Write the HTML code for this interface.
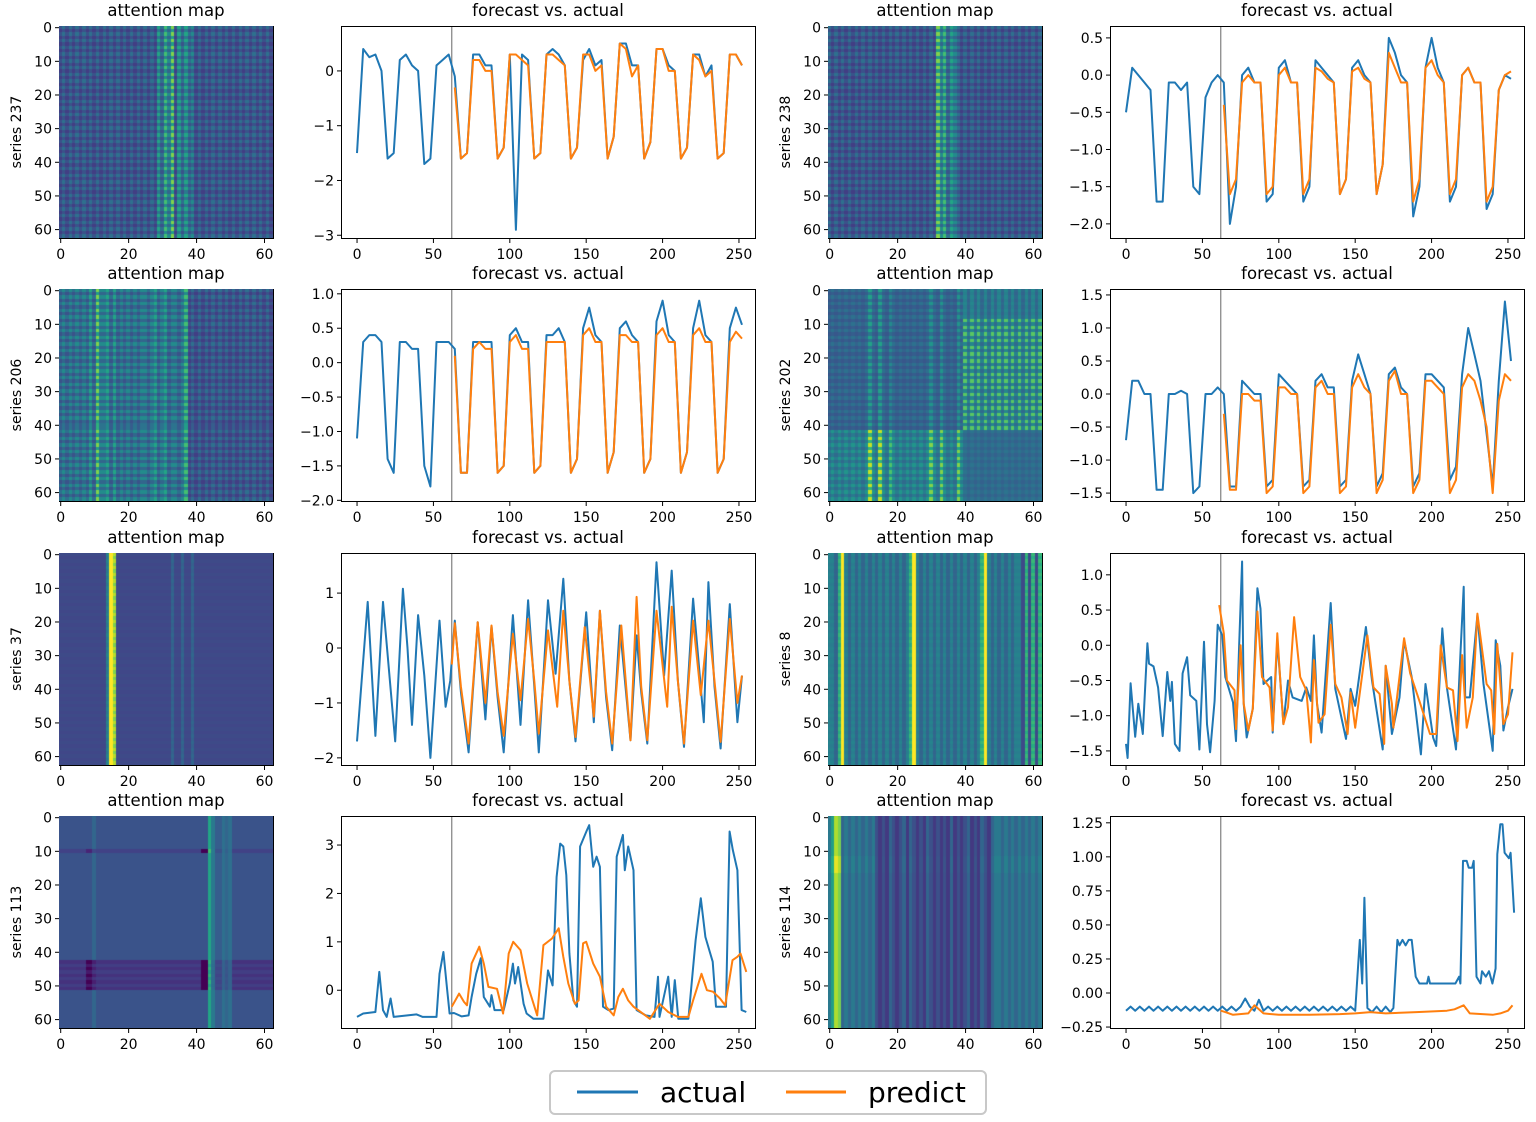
<!DOCTYPE html>
<html><head><meta charset="utf-8"><title>attention maps and forecasts</title>
<style>
body{margin:0;background:#fff}
#fig{position:relative;width:1536px;height:1122px;overflow:hidden;font-family:"DejaVu Sans","Liberation Sans",sans-serif}
canvas{position:absolute}
svg text{font-family:"DejaVu Sans","Liberation Sans",sans-serif;fill:#000}
</style></head>
<body>
<div id="fig">
<svg id="svg" width="1536" height="1122"></svg>
</div>
<script>
// ---------- line series data ----------
const s237Actual=[-1.5,0.4,0.25,0.3,0.0,-1.6,-1.5,0.2,0.3,0.1,0.0,-1.7,-1.6,0.1,0.2,0.3,-0.1,-1.6,-1.5,0.3,0.3,0.1,0.1,-1.6,-1.4,0.3,-2.9,0.3,0.2,-1.6,-1.5,0.3,0.4,0.3,0.1,-1.6,-1.4,0.2,0.4,0.1,0.2,-1.6,-1.2,0.5,0.5,0.1,0.1,-1.6,-1.3,0.4,0.4,0.1,0.0,-1.6,-1.4,0.3,0.3,-0.1,0.1,-1.6,-1.5,0.3,0.3,0.1];
const s237Predict=[-0.3,-1.6,-1.5,0.2,0.2,0.0,0.0,-1.6,-1.4,0.3,0.3,0.2,0.1,-1.6,-1.5,0.3,0.3,0.2,0.1,-1.6,-1.4,0.3,0.3,0.0,0.1,-1.6,-1.2,0.5,0.4,-0.1,0.1,-1.6,-1.3,0.4,0.4,0.0,0.0,-1.6,-1.4,0.3,0.2,-0.1,0.0,-1.6,-1.5,0.3,0.3,0.1];
const s238Actual=[-0.5,0.1,0.0,-0.1,-0.2,-1.7,-1.7,-0.1,-0.1,-0.2,-0.1,-1.5,-1.6,-0.3,-0.1,0.0,-0.1,-2.0,-1.5,0.0,0.1,-0.1,-0.1,-1.7,-1.6,0.1,0.2,-0.1,-0.1,-1.7,-1.5,0.2,0.1,0.0,-0.1,-1.6,-1.4,0.1,0.2,0.0,-0.1,-1.6,-1.2,0.5,0.3,0.0,-0.1,-1.9,-1.5,0.1,0.5,0.1,-0.1,-1.7,-1.5,0.0,0.1,-0.1,-0.1,-1.8,-1.6,-0.2,0.0,-0.05];
const s238Predict=[-0.4,-1.6,-1.4,-0.1,0.0,-0.1,-0.1,-1.6,-1.5,0.0,0.1,-0.1,-0.1,-1.6,-1.4,0.1,0.05,-0.05,-0.1,-1.6,-1.4,0.05,0.1,-0.05,-0.1,-1.6,-1.2,0.3,0.1,-0.1,-0.1,-1.7,-1.4,0.1,0.2,0.0,-0.1,-1.6,-1.4,0.0,0.1,-0.1,-0.1,-1.7,-1.5,-0.2,0.0,0.05];
const s206Actual=[-1.1,0.3,0.4,0.4,0.3,-1.4,-1.6,0.3,0.3,0.2,0.2,-1.5,-1.8,0.3,0.3,0.3,0.2,-1.6,-1.6,0.3,0.3,0.3,0.3,-1.6,-1.5,0.4,0.5,0.3,0.3,-1.6,-1.5,0.4,0.4,0.5,0.3,-1.6,-1.4,0.5,0.8,0.4,0.3,-1.6,-1.3,0.5,0.6,0.4,0.3,-1.6,-1.4,0.6,0.9,0.4,0.3,-1.6,-1.3,0.5,0.9,0.4,0.3,-1.6,-1.4,0.5,0.8,0.55];
const s206Predict=[0.1,-1.6,-1.6,0.2,0.3,0.2,0.2,-1.6,-1.5,0.3,0.4,0.2,0.2,-1.6,-1.5,0.3,0.3,0.3,0.3,-1.6,-1.4,0.4,0.5,0.3,0.3,-1.6,-1.3,0.4,0.4,0.3,0.3,-1.6,-1.4,0.4,0.5,0.3,0.3,-1.6,-1.3,0.4,0.5,0.3,0.3,-1.6,-1.4,0.3,0.45,0.35];
const s202Actual=[-0.7,0.2,0.2,0.0,0.0,-1.45,-1.45,0.0,0.0,0.05,0.0,-1.5,-1.4,0.0,0.0,0.1,0.0,-1.4,-1.4,0.2,0.1,0.0,0.0,-1.4,-1.3,0.3,0.2,0.1,0.0,-1.4,-1.3,0.2,0.3,0.1,0.1,-1.4,-1.3,0.2,0.6,0.3,0.0,-1.4,-1.2,0.3,0.4,0.1,0.0,-1.4,-1.2,0.3,0.3,0.2,0.1,-1.3,-1.1,0.3,1.0,0.6,0.2,-0.6,-1.4,0.2,1.4,0.5];
const s202Predict=[-0.3,-1.45,-1.45,0.0,0.0,-0.1,-0.1,-1.5,-1.4,0.1,0.1,0.0,0.0,-1.5,-1.4,0.1,0.2,0.0,0.0,-1.5,-1.4,0.1,0.3,0.1,0.0,-1.5,-1.3,0.2,0.35,0.0,0.0,-1.5,-1.3,0.2,0.2,0.1,0.0,-1.5,-1.3,0.1,0.3,0.2,-0.1,-0.5,-1.5,-0.1,0.3,0.2];
const s37ActualT=[0,7,12,17,25,30,33,36,40,44,48,54,58,61,64,68,73,79,84,88,92,96,102,107,112,116,119,125,130,135,139,143,150,155,159,163,167,172,179,183,186,190,196,201,206,210,214,220,227,230,234,238,244,249,252];
const s37ActualV=[-1.7,0.84,-1.6,0.84,-1.7,1.08,0.0,-1.4,0.6,-0.5,-2.0,0.5,-1.07,-0.6,0.5,-0.8,-1.9,0.47,-1.3,0.4,-0.9,-1.9,0.6,-1.4,0.87,-0.7,-1.9,0.87,-0.47,1.26,-0.6,-1.7,0.65,-1.35,0.68,-0.9,-1.86,0.41,-1.68,0.23,-0.8,-1.74,1.56,-0.5,1.41,-0.6,-1.8,0.9,-1.35,1.2,-0.7,-1.83,0.8,-1.35,-0.5];
const s37PredictT=[62,64,68,73,79,84,88,92,96,102,107,112,116,119,125,131,135,139,143,149,155,159,163,167,173,179,183,186,190,196,203,206,210,214,220,225,230,234,238,244,249,252];
const s37PredictV=[-0.3,0.45,-0.7,-1.74,0.47,-1.0,0.41,-0.8,-1.6,0.26,-0.95,0.53,-0.6,-1.56,0.32,-1.07,0.68,-0.6,-1.62,0.38,-1.25,0.68,-0.8,-1.74,0.41,-1.68,0.93,-0.7,-1.68,0.68,-1.07,0.75,-0.6,-1.74,0.5,-0.86,0.5,-0.6,-1.71,0.53,-1.0,-0.5];
const s8ActualT=[0,1,3,6,8,11,14,15,18,21,24,27,29,30,32,35,37,40,42,46,48,51,53,55,58,60,63,65,70,72,74,76,77,79,83,86,88,90,95,96,99,101,103,106,109,115,118,121,123,125,128,134,137,144,147,150,157,161,168,170,174,179,182,187,193,196,201,203,207,210,216,219,221,222,225,230,234,240,242,245,247,250,253];
const s8ActualV=[-1.4,-1.6,-0.54,-1.3,-0.83,-1.26,0.03,-0.26,-0.3,-0.6,-1.29,-0.38,-0.79,-0.52,-1.4,-1.5,-0.4,-0.17,-0.71,-0.79,-1.48,0.05,-1.12,-1.52,-0.79,0.29,0.14,-0.45,-0.81,-1.36,-0.02,1.19,-0.83,-1.31,-0.9,0.81,0.52,-0.55,-0.45,-1.24,0.07,-0.5,-1.12,-0.5,-0.74,-0.79,-0.6,-0.79,0.14,-0.83,-1.24,0.6,-0.62,-1.33,-0.62,-0.86,0.26,-0.5,-1.48,-0.29,-1.26,-0.74,0.07,-0.45,-1.55,-0.55,-1.31,-1.43,0.24,-0.6,-1.48,-0.07,0.83,-0.74,-0.74,0.43,-0.55,-1.5,0.07,-0.29,-1.21,-0.88,-0.62];
const s8PredictT=[61,64,66,71,72,75,77,80,83,86,89,94,96,99,101,103,106,110,114,118,121,123,126,130,134,137,141,145,147,150,158,162,166,169,170,174,175,182,186,192,199,203,206,210,214,217,220,223,227,230,236,239,241,243,247,250,253];
const s8PredictV=[0.57,0.17,-0.5,-0.64,-1.19,0,-0.83,-1.21,-0.9,0.48,-0.45,-0.6,-1.21,0.17,-0.5,-1.12,-0.88,0.4,-0.45,-0.64,-1.38,-0.21,-1.1,-0.98,0.29,-0.55,-0.74,-1.26,-0.67,-1.17,0.14,-0.6,-0.69,-1.4,-0.29,-0.83,-1.17,0.1,-0.4,-0.79,-1.26,-1.26,0,-0.6,-0.64,-1.36,-0.14,-1.17,-0.74,0.45,-0.55,-0.64,-1.26,0.02,-1.12,-0.98,-0.1];
const s113ActualT=[0,4,12,14.6,17,19.4,22,24,39,43,52,54,56.5,59,60.6,63.5,68.5,73,75,78,81,83,87,88,90,96,100,102,103.4,105.5,109,111,115.5,122,125,128,130.6,133,135,137,139,141.6,144,146,150.5,152,154.6,156.8,159,161,164.6,168,170,174,175.3,177.5,181,183,189,194.7,197,198,203.7,206,208,210.3,216.9,221.6,225,228,232.8,235,241.5,243.9,246,249,251.7,254.8];
const s113ActualV=[-0.55,-0.48,-0.45,0.38,-0.41,-0.55,-0.17,-0.55,-0.5,-0.55,-0.55,0.34,0.79,0,-0.48,-0.47,-0.54,-0.52,-0.14,0.34,0.66,-0.14,-0.34,-0.1,-0.41,-0.41,0.14,0.55,0.14,0.48,-0.28,-0.48,-0.59,-0.59,0.41,0.1,2.34,3.03,2.97,2.38,0.76,-0.21,-0.34,2.97,3.31,3.41,2.55,2.76,2.55,-0.34,-0.41,-0.38,2.76,3.21,2.48,2.97,2.48,-0.41,-0.52,-0.55,0.28,-0.55,0.28,-0.55,0.21,-0.59,-0.59,1.03,1.9,1.1,0.59,-0.34,-0.34,3.28,2.9,2.48,-0.41,-0.45];
const s113PredictT=[62,66.8,70,72,75,80,83,86,91.6,95.6,99.3,102.2,107,111.4,117.9,122,127.6,132,135,138.3,142.6,145,148,150,154.6,159,163,168,171,174,177.5,181,184,191.7,198,203.7,210,216.9,220,225.5,229,233,237.6,241,245.8,249,251,254.8];
const s113PredictV=[-0.34,-0.07,-0.24,-0.31,0.55,0.9,0.55,0.07,0.03,-0.48,0.76,1.0,0.83,0.14,-0.52,0.93,1.07,1.28,0.69,0.14,-0.28,-0.21,0.97,1.0,0.55,0.28,-0.34,-0.52,-0.14,0.03,-0.21,-0.34,-0.41,-0.59,-0.28,-0.45,-0.55,-0.55,-0.21,0.34,0,-0.03,-0.17,-0.31,0.62,0.69,0.76,0.38];
const s114ActualT=[0,3,6,9,12,15,18,21,24,27,30,33,36,39,42,45,48,51,54,57,60,63,66,69,72,75,78,81,84,87,90,93,96,99,102,105,108,111,114,117,120,123,126,129,132,135,138,141,144,147,150,153,154.6,156,158,161,164,167,170,173,175,177.6,179,181,183,185,187,189.6,192,197,198,199,215.6,218,218.9,220.6,223,224.3,226.5,227.6,229.4,232,233,235.5,237.6,239.8,241.9,243,245,246.4,247.8,250.6,251.7,254];
const s114ActualV=[-0.13,-0.10,-0.13,-0.10,-0.13,-0.10,-0.13,-0.10,-0.13,-0.10,-0.13,-0.10,-0.13,-0.10,-0.13,-0.10,-0.13,-0.10,-0.13,-0.10,-0.13,-0.10,-0.13,-0.10,-0.13,-0.10,-0.04,-0.10,-0.13,-0.05,-0.13,-0.10,-0.13,-0.10,-0.13,-0.10,-0.13,-0.10,-0.13,-0.10,-0.13,-0.10,-0.13,-0.10,-0.13,-0.10,-0.13,-0.10,-0.13,-0.10,-0.13,0.39,0.07,0.70,-0.11,-0.14,-0.10,-0.14,-0.10,-0.14,-0.11,0.39,0.35,0.39,0.35,0.39,0.39,0.12,0.07,0.07,0.12,0.07,0.07,0.12,0.07,0.97,0.97,0.92,0.92,0.97,0.12,0.07,0.16,0.12,0.16,0.07,0.18,1.02,1.24,1.24,1.03,0.99,1.03,0.59];
const s114PredictT=[62,65,70,80,84,90,100,120,140,150,160,170,190,210,215,221,225,240,245,250,253];
const s114PredictV=[-0.13,-0.14,-0.16,-0.15,-0.09,-0.15,-0.16,-0.16,-0.155,-0.15,-0.14,-0.15,-0.14,-0.13,-0.12,-0.09,-0.15,-0.16,-0.15,-0.13,-0.09];

// ---------- heatmap profile data (digit scale 0-9) ----------
const hm237Col="232323232323232323232323232325364725353423232323232323232323232";
const hm237Row="969696969696969696969696969696969696969696969696969696969696969";
const hm238Col="323232323232323232323232323232327463543232323232323232323232323";
const hm238Row="969696969696969696969696969696969696969696969696969696969696969";
const hm206Col="343434343537445353434343443453453443462323232323232323232323232";
const hm206Row="969696969696969696969696969696969696969677969696969696969696969";
const hm202ColA="232323232323732732532323232323632632326311111111111111111111111";
const hm202RowA="424242424242424242424242424242424242424242858585858585858585858";
const hm202ColB="000000000000000000000000000000000000000052525252525252525252525";
const hm202RowB="333333333838383838383838383838383838383838111111111111111111111";
const hm37Col="111111111111113971111111111111111211211211111111111111111111111";
const hm37Row="989898989898989898989898989898989898989898989898989898989898989";
const hm8Col="221492121212121212121212492121212121212121212492121212122040404";
const hm8Row="989898989898989898989898989898989898989898989898989898989898989";
const hm113ColA="000000000020000000000000000000000000000000009411323000000000000";
const hm113RowA="666666666696666666666666666666666666666666697979797966666666666";
const hm113ColB="222222225552222222222222222222222222222222992222222222222222222";
const hm113RowB="000000000050000000000000000000000000000000096969696900000000000";
const hm114Col="359823232323231010210120210102101010201012010210233232323232323";
const hm114Row="888888888888999998888888888888888888888888888888888888888888888";

// ---------- axes ticks ----------
const lineXTicks=[0,50,100,150,200,250];
const heatXTicks=[0,20,40,60];
const heatYTicks=[0,10,20,30,40,50,60];
const yTicks237=[0,-1,-2,-3];
const yTicks238=[0.5,0,-0.5,-1,-1.5,-2];
const yTicks206=[1,0.5,0,-0.5,-1,-1.5,-2];
const yTicks202=[1.5,1,0.5,0,-0.5,-1,-1.5];
const yTicks37=[1,0,-1,-2];
const yTicks8=[1,0.5,0,-0.5,-1,-1.5];
const yTicks113=[3,2,1,0];
const yTicks114=[1.25,1,0.75,0.5,0.25,0,-0.25];

const NS="http://www.w3.org/2000/svg";
const svg=document.getElementById('svg');
const fig=document.getElementById('fig');
function mk(tag,attrs,parent){const e=document.createElementNS(NS,tag);for(const k in attrs)e.setAttribute(k,attrs[k]);(parent||svg).appendChild(e);return e;}
function fmt(v,d){return v.toFixed(d).replace('-','\u2212');}
const digits=s=>s.split('').map(Number);

const VIR=[[68,1,84],[72,36,117],[65,68,135],[53,95,141],[42,120,142],[33,145,140],[34,168,132],[68,191,112],[122,209,81],[189,223,38],[253,231,37]];
function viridis(v){v=Math.max(0,Math.min(1,v));const p=v*10,i=Math.min(9,Math.floor(p)),f=p-i;const a=VIR[i],b=VIR[i+1];return 'rgb('+[0,1,2].map(k=>Math.round(a[k]+(b[k]-a[k])*f)).join(',')+')';}

const colX={hm:[59,828],ln:[341,1110]};
const rowY=[26,289,553,816];
const H=212,HW=214,LW=414,N=63;

function heatmap(ci,ri,name,label,terms,base){
  const x=colX.hm[ci],y=rowY[ri];
  const cv=document.createElement('canvas');
  cv.width=HW;cv.height=H;cv.style.left=x+'px';cv.style.top=y+'px';
  
  
  fig.appendChild(cv);
  const ctx=cv.getContext('2d');const cw=HW/N,chh=H/N;
  const T=terms.map(t=>({c:digits(t.col),r:digits(t.row),s:t.s}));
  for(let r=0;r<N;r++)for(let c=0;c<N;c++){
    let v=base/9;T.forEach(t=>{v+=t.s*t.c[c]*t.r[r]/81;});
    ctx.fillStyle=viridis(v);ctx.fillRect(Math.floor(c*cw),Math.floor(r*chh),Math.ceil(cw)+1,Math.ceil(chh)+1);
  }
  const g=mk('g',{});
  
  
  const fr=mk('rect',{x:x+0.5,y:y+0.5,width:HW,height:H,fill:'none',stroke:'#000','stroke-width':1},g);
  
  
  const tt=mk('text',{x:x+HW/2,y:y-10,'text-anchor':'middle','font-size':16.5},g);tt.textContent='attention map';
  
  
  heatXTicks.forEach(t=>{const px=x+(t+0.5)*cw;
    mk('line',{x1:px,x2:px,y1:y+H+1,y2:y+H+5,stroke:'#000'},g);
    const tx=mk('text',{x:px,y:y+H+21,'text-anchor':'middle','font-size':14},g);tx.textContent=t;
    
    });
  heatYTicks.forEach(t=>{const py=y+(t+0.5)*chh;
    mk('line',{x1:x-4,x2:x,y1:py,y2:py,stroke:'#000'},g);
    const tx=mk('text',{x:x-7,y:py+5,'text-anchor':'end','font-size':14},g);tx.textContent=t;
    
    });
  const yl=mk('text',{x:0,y:0,'text-anchor':'middle','font-size':14,transform:'translate('+(x-38)+','+(y+H/2)+') rotate(-90)'},g);yl.textContent=label;
  
  
}

const X0=-10.5,X1=260.5;
function series(tArr,vArr,t0,step){return vArr.map((v,i)=>[tArr?tArr[i]:t0+i*step,v]);}
function lineChart(ci,ri,name,yMin,yMax,ticks,dec,act,pred){
  const x=colX.ln[ci],y=rowY[ri];
  const sx=t=>x+(t-X0)/(X1-X0)*LW, sy=v=>y+(yMax-v)/(yMax-yMin)*H;
  const g=mk('g',{});
  
  
  const cp=mk('clipPath',{id:'cp'+name},g);mk('rect',{x:x,y:y,width:LW,height:H},cp);
  const vl=mk('line',{x1:sx(62),x2:sx(62),y1:y,y2:y+H,stroke:'#7f7f7f','stroke-width':1.2},g);
  
  
  const pa=mk('polyline',{points:act.map(p=>sx(p[0]).toFixed(1)+','+sy(p[1]).toFixed(1)).join(' '),fill:'none',stroke:'#1f77b4','stroke-width':2,'stroke-linejoin':'round','clip-path':'url(#cp'+name+')'},g);
  
  
  const pp=mk('polyline',{points:pred.map(p=>sx(p[0]).toFixed(1)+','+sy(p[1]).toFixed(1)).join(' '),fill:'none',stroke:'#ff7f0e','stroke-width':2,'stroke-linejoin':'round','clip-path':'url(#cp'+name+')'},g);
  
  
  const fr=mk('rect',{x:x+0.5,y:y+0.5,width:LW,height:H,fill:'none',stroke:'#000','stroke-width':1},g);
  
  
  const tt=mk('text',{x:x+LW/2,y:y-10,'text-anchor':'middle','font-size':16.5},g);tt.textContent='forecast vs. actual';
  
  
  lineXTicks.forEach(t=>{const px=sx(t);
    mk('line',{x1:px,x2:px,y1:y+H+1,y2:y+H+5,stroke:'#000'},g);
    const tx=mk('text',{x:px,y:y+H+21,'text-anchor':'middle','font-size':14},g);tx.textContent=t;
    
    });
  ticks.forEach(t=>{const py=sy(t);
    mk('line',{x1:x-4,x2:x,y1:py,y2:py,stroke:'#000'},g);
    const tx=mk('text',{x:x-7,y:py+5,'text-anchor':'end','font-size':14},g);tx.textContent=fmt(t,dec);
    
    });
}

heatmap(0,0,'237','series 237',[{col:hm237Col,row:hm237Row,s:1}],0.3);
lineChart(0,0,'237',-3.05,0.82,yTicks237,0,series(null,s237Actual,0,4),series(null,s237Predict,64,4));
heatmap(1,0,'238','series 238',[{col:hm238Col,row:hm238Row,s:1}],0.3);
lineChart(1,0,'238',-2.19,0.66,yTicks238,1,series(null,s238Actual,0,4),series(null,s238Predict,64,4));
heatmap(0,1,'206','series 206',[{col:hm206Col,row:hm206Row,s:1}],0.3);
lineChart(0,1,'206',-2.01,1.07,yTicks206,1,series(null,s206Actual,0,4),series(null,s206Predict,64,4));
heatmap(1,1,'202','series 202',[{col:hm202ColA,row:hm202RowA,s:1},{col:hm202ColB,row:hm202RowB,s:1}],2);
lineChart(1,1,'202',-1.62,1.59,yTicks202,1,series(null,s202Actual,0,4),series(null,s202Predict,64,4));
heatmap(0,2,'37','series 37',[{col:hm37Col,row:hm37Row,s:1}],1);
lineChart(0,2,'37',-2.13,1.73,yTicks37,0,series(s37ActualT,s37ActualV),series(s37PredictT,s37PredictV));
heatmap(1,2,'8','series 8',[{col:hm8Col,row:hm8Row,s:1}],2);
lineChart(1,2,'8',-1.70,1.31,yTicks8,1,series(s8ActualT,s8ActualV),series(s8PredictT,s8PredictV));
heatmap(0,3,'113','series 113',[{col:hm113ColA,row:hm113RowA,s:0.5},{col:hm113ColB,row:hm113RowB,s:-0.5}],2.3);
lineChart(0,3,'113',-0.78,3.6,yTicks113,0,series(s113ActualT,s113ActualV),series(s113PredictT,s113PredictV));
heatmap(1,3,'114','series 114',[{col:hm114Col,row:hm114Row,s:0.8}],1.5);
lineChart(1,3,'114',-0.257,1.30,yTicks114,2,series(s114ActualT,s114ActualV),series(s114PredictT,s114PredictV));

// legend
const lg=mk('g',{});


mk('rect',{x:550,y:1071,width:436,height:43,rx:5,fill:'#fff',stroke:'#c8c8c8','stroke-width':2},lg);
const la=mk('line',{x1:577,x2:638,y1:1092,y2:1092,stroke:'#1f77b4','stroke-width':3},lg);


const lat=mk('text',{x:660,y:1102,'font-size':28},lg);lat.textContent='actual';


const lp=mk('line',{x1:786,x2:846,y1:1092,y2:1092,stroke:'#ff7f0e','stroke-width':3},lg);


const lpt=mk('text',{x:868,y:1102,'font-size':28},lg);lpt.textContent='predict';


</script>
</body></html>
